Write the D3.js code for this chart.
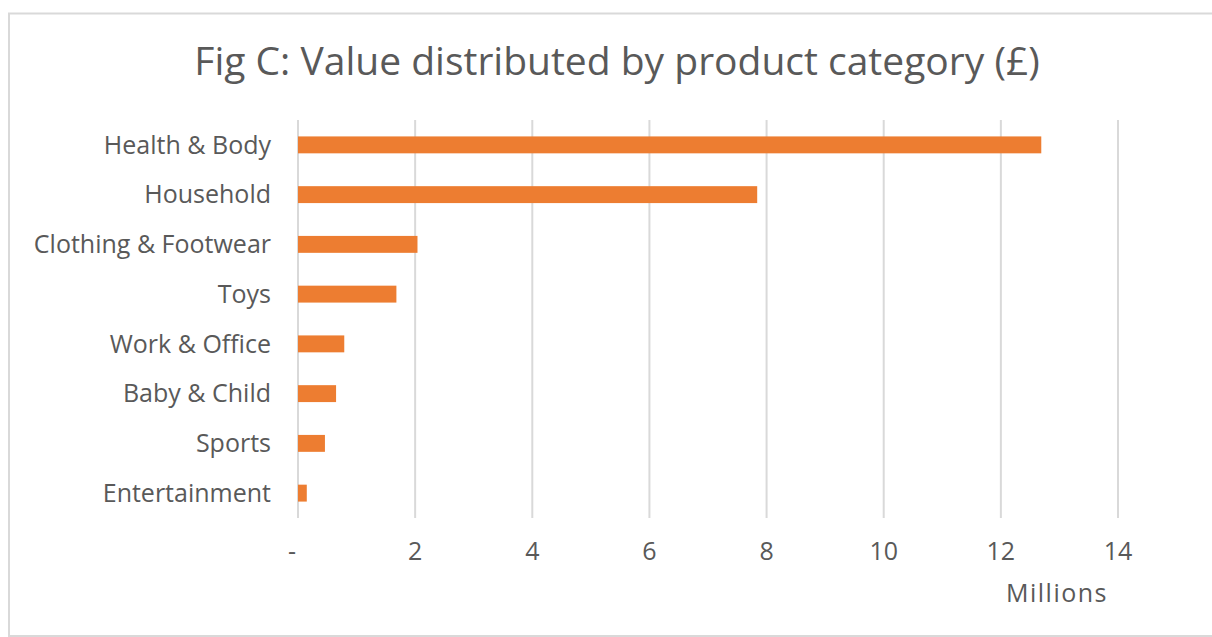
<!DOCTYPE html>
<html><head><meta charset="utf-8">
<script src="https://cdn.jsdelivr.net/npm/d3@7"></script>
<style>body{margin:0;background:#fff;}svg{display:block;}text{font-family:"Open Sans",sans-serif;fill:#595959;}</style>
</head><body>
<svg id="c" width="1212" height="637"></svg>
<script>
const categories = ["Health & Body","Household","Clothing & Footwear","Toys","Work & Office","Baby & Child","Sports","Entertainment"];
const values = [12.69, 7.84, 2.04, 1.68, 0.79, 0.65, 0.46, 0.15];
const tickValues = [0,2,4,6,8,10,12,14];
const tickLabels = ["-","2","4","6","8","10","12","14"];
const title = "Fig C: Value distributed by product category (£)";
const axisTitle = "Millions";

const svg = d3.select("#c");
svg.append("rect").attr("x",9).attr("y",13.5).attr("width",1212).attr("height",622.5)
  .attr("fill","#fff").attr("stroke","#d9d9d9").attr("stroke-width",2);

const x = d3.scaleLinear().domain([0,14]).range([298,1118]);
const y = d3.scaleBand().domain(categories).range([120,518]).paddingInner(0.66).paddingOuter(0.33);

svg.append("g").selectAll("line").data(tickValues).join("line")
  .attr("x1",d=>x(d)).attr("x2",d=>x(d)).attr("y1",120).attr("y2",518)
  .attr("stroke","#d9d9d9").attr("stroke-width",2);

svg.append("g").selectAll("rect").data(values).join("rect")
  .attr("x",x(0)).attr("y",(d,i)=>y(categories[i]))
  .attr("width",d=>x(d)-x(0)).attr("height",y.bandwidth())
  .attr("fill","#ED7D31");

svg.append("g").selectAll("text").data(categories).join("text")
  .attr("x",271).attr("y",d=>y(d)+y.bandwidth()/2).attr("dy","0.35em")
  .attr("text-anchor","end").attr("font-size",25).text(d=>d);

svg.append("g").selectAll("text").data(tickValues).join("text")
  .attr("x",d=>x(d)-(d===0?6:0)).attr("y",560)
  .attr("text-anchor","middle").attr("font-size",25).text((d,i)=>tickLabels[i]);

svg.append("text").attr("x",1057).attr("y",602)
  .attr("text-anchor","middle").attr("font-size",25).attr("letter-spacing",1.5).text(axisTitle);

svg.append("text").attr("x",617).attr("y",75)
  .attr("text-anchor","middle").attr("font-size",39).text(title);
</script>
</body></html>
